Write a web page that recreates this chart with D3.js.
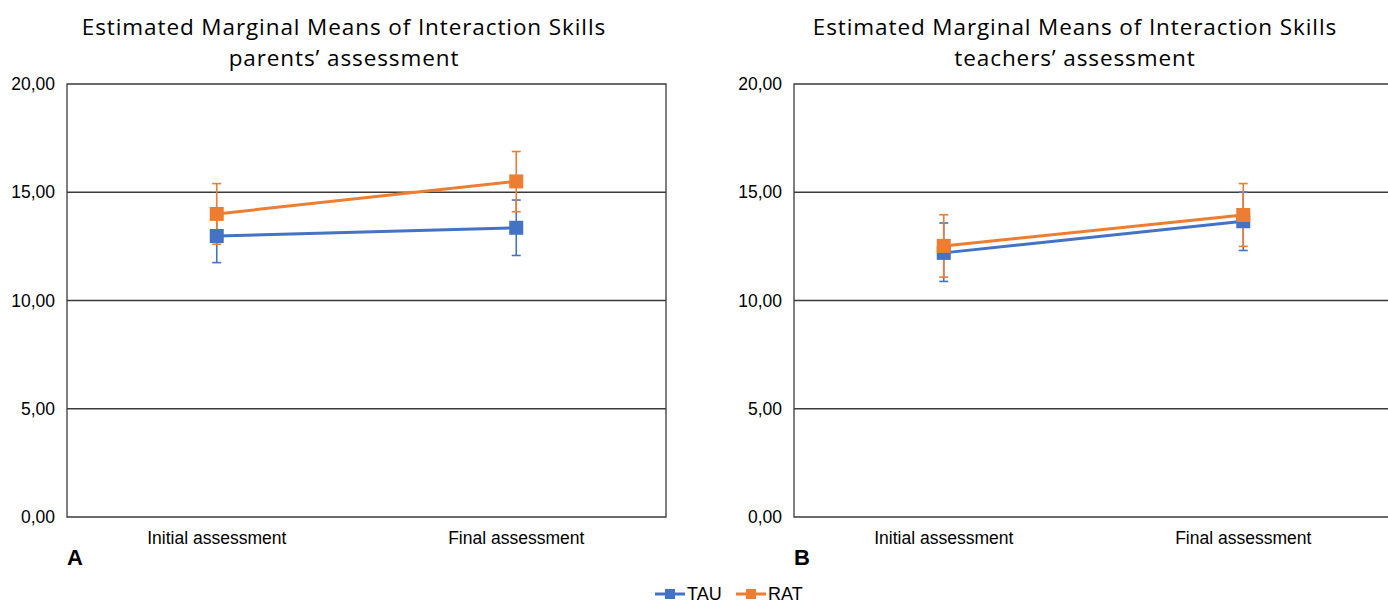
<!DOCTYPE html>
<html>
<head>
<meta charset="utf-8">
<script src="https://cdn.jsdelivr.net/npm/d3@7"></script>
<style>
  html, body { margin: 0; padding: 0; background: #fff; }
  svg { display: block; }
</style>
</head>
<body>
<svg id="chart" width="1388" height="604"></svg>
<script>
// Time points and groups
const timepoints = ["Initial assessment", "Final assessment"];
const groups = ["TAU", "RAT"];
const groupColors = ["#4472C4", "#ED7D31"];
const yTicks = [0, 5, 10, 15, 20];

// Panel A: parents' assessment (mean, lower and upper 95% CI)
const parentsTAU = [12.98, 13.36];
const parentsTAULow = [11.75, 12.08];
const parentsTAUHigh = [14.2, 14.64];
const parentsRAT = [14.0, 15.5];
const parentsRATLow = [12.6, 14.1];
const parentsRATHigh = [15.4, 16.88];

// Panel B: teachers' assessment
const teachersTAU = [12.2, 13.66];
const teachersTAULow = [10.88, 12.31];
const teachersTAUHigh = [13.58, 15.0];
const teachersRAT = [12.52, 13.95];
const teachersRATLow = [11.08, 12.5];
const teachersRATHigh = [13.96, 15.4];

const panels = [
  {
    title: ["Estimated Marginal Means of Interaction Skills", "parents\u2019 assessment"],
    letter: "A",
    left: 67, width: 599, titleX: 344, rightBorder: true,
    series: [
      { mean: parentsTAU, lo: parentsTAULow, hi: parentsTAUHigh },
      { mean: parentsRAT, lo: parentsRATLow, hi: parentsRATHigh }
    ]
  },
  {
    title: ["Estimated Marginal Means of Interaction Skills", "teachers\u2019 assessment"],
    letter: "B",
    left: 794, width: 599, titleX: 1075, rightBorder: false,
    series: [
      { mean: teachersTAU, lo: teachersTAULow, hi: teachersTAUHigh },
      { mean: teachersRAT, lo: teachersRATLow, hi: teachersRATHigh }
    ]
  }
];

const svg = d3.select("#chart");
const plotTop = 84, plotBottom = 517;
const y = d3.scaleLinear().domain([0, 20]).range([plotBottom, plotTop]);
const fmt = v => d3.format(".2f")(v).replace(".", ",");

panels.forEach(p => {
  const g = svg.append("g");
  const x = d3.scalePoint().domain(timepoints).range([p.left, p.left + p.width]).padding(0.5);

  // Two-line title
  p.title.forEach((line, i) => {
    g.append("text")
      .attr("x", p.titleX).attr("y", 35 + i * 31)
      .attr("text-anchor", "middle")
      .attr("font-family", "'Open Sans', sans-serif")
      .attr("font-size", 22.5)
      .attr("letter-spacing", 0.9)
      .attr("fill", "#000")
      .text(line);
  });

  // Horizontal grid lines
  g.selectAll("line.grid").data(yTicks.filter(t => t > 0 && t < 20)).join("line")
    .attr("x1", p.left).attr("x2", p.left + p.width)
    .attr("y1", d => y(d)).attr("y2", d => y(d))
    .attr("stroke", "#3a3a3a").attr("stroke-width", 1.3);

  // Frame
  const right = p.left + p.width;
  const framePath = p.rightBorder
    ? `M${right},${plotBottom}H${p.left}V${plotTop}H${right}Z`
    : `M${right + 10},${plotBottom}H${p.left}V${plotTop}H${right + 10}`;
  g.append("path").attr("d", framePath)
    .attr("fill", "none").attr("stroke", "#3a3a3a").attr("stroke-width", 1.3);

  // Y tick labels
  g.selectAll("text.ytick").data(yTicks).join("text")
    .attr("x", p.left - 12).attr("y", d => y(d) + 6)
    .attr("text-anchor", "end")
    .attr("font-family", "'Liberation Sans', Arial, sans-serif")
    .attr("font-size", 17.5).attr("fill", "#000")
    .text(fmt);

  // Category labels
  g.selectAll("text.xtick").data(timepoints).join("text")
    .attr("x", d => x(d)).attr("y", 544)
    .attr("text-anchor", "middle")
    .attr("font-family", "'Liberation Sans', Arial, sans-serif")
    .attr("font-size", 17.5).attr("fill", "#000")
    .text(d => d);

  // Panel letter
  g.append("text")
    .attr("x", p.left).attr("y", 565)
    .attr("font-family", "'Liberation Sans', Arial, sans-serif")
    .attr("font-weight", "bold")
    .attr("font-size", 22).attr("fill", "#000")
    .text(p.letter);

  // Error bars
  p.series.forEach((s, si) => {
    const eb = g.append("g").attr("stroke", groupColors[si]).attr("stroke-width", 1.6);
    timepoints.forEach((t, ti) => {
      const cx = x(t);
      eb.append("line").attr("x1", cx).attr("x2", cx).attr("y1", y(s.lo[ti])).attr("y2", y(s.hi[ti]));
      [s.lo[ti], s.hi[ti]].forEach(v => {
        eb.append("line").attr("x1", cx - 4.5).attr("x2", cx + 4.5).attr("y1", y(v)).attr("y2", y(v));
      });
    });
  });

  // Lines and square markers
  p.series.forEach((s, si) => {
    const pts = timepoints.map((t, ti) => [x(t), y(s.mean[ti])]);
    g.append("path")
      .attr("d", d3.line()(pts))
      .attr("fill", "none").attr("stroke", groupColors[si]).attr("stroke-width", 3);
    g.selectAll(null).data(pts).join("rect")
      .attr("x", d => d[0] - 7).attr("y", d => d[1] - 7)
      .attr("width", 14).attr("height", 14)
      .attr("fill", groupColors[si]);
  });
});

// Legend
const legend = svg.append("g");
const legendX = [655, 736];
groups.forEach((name, i) => {
  const lx = legendX[i], ly = 594;
  legend.append("line").attr("x1", lx).attr("x2", lx + 30).attr("y1", ly).attr("y2", ly)
    .attr("stroke", groupColors[i]).attr("stroke-width", 3);
  legend.append("rect").attr("x", lx + 10).attr("y", ly - 5).attr("width", 10).attr("height", 10)
    .attr("fill", groupColors[i]);
  legend.append("text").attr("x", lx + 32).attr("y", ly + 6)
    .attr("font-family", "'Liberation Sans', Arial, sans-serif")
    .attr("font-size", 18).attr("fill", "#000")
    .text(name);
});
</script>
</body>
</html>
